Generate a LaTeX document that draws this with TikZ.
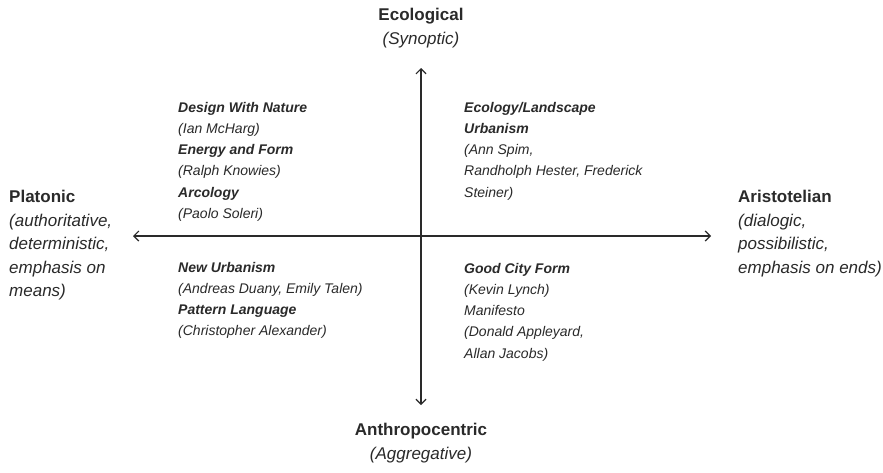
\documentclass[tikz,border=0pt]{standalone}
\usepackage{fontspec}
\setmainfont{Liberation Sans}
\usetikzlibrary{arrows.meta}
\definecolor{ink}{HTML}{2A2A2A}
\begin{document}
\begin{tikzpicture}[x=1pt,y=-1pt,
  axislabel/.style={inner sep=0pt, text=ink, align=left,
    font=\fontsize{17}{23.5}\selectfont},
  polelabel/.style={inner sep=0pt, text=ink, align=center,
    font=\fontsize{17}{23.5}\selectfont},
  quadtext/.style={inner sep=0pt, text=ink, align=left, anchor=north west,
    font=\fontsize{14}{21.2}\selectfont},
  axis/.style={draw=ink, line width=1.2pt,
    {Straight Barb[length=5pt,width=10pt]}-{Straight Barb[length=5pt,width=10pt]}}]
  \useasboundingbox[fill=white] (0,0) rectangle (883,472);

  % axis ends
  \coordinate (west) at (133,236);
  \coordinate (east) at (711,236);
  \coordinate (north) at (421,68);
  \coordinate (south) at (421,405);
  \draw[axis] (west) -- (east);
  \draw[axis] (south) -- (north);

  % poles
  \node[polelabel, anchor=north] (eco) at (421,8)
    {\textbf{Ecological}\\\textit{(Synoptic)}};
  \node[polelabel, anchor=north] (anthro) at (421,423)
    {\textbf{Anthropocentric}\\\textit{(Aggregative)}};
  \node[axislabel, anchor=north west] (plato) at (9,190)
    {\textbf{Platonic}\\\textit{(authoritative,}\\\textit{deterministic,}\\\textit{emphasis on}\\\textit{means)}};
  \node[axislabel, anchor=north west] (aristo) at (738,190)
    {\textbf{Aristotelian}\\\textit{(dialogic,}\\\textit{possibilistic,}\\\textit{emphasis on ends)}};

  % quadrants
  \node[quadtext] (ul) at (178,102)
    {\textbf{\textit{Design With Nature}}\\\textit{(Ian McHarg)}\\
     \textbf{\textit{Energy and Form}}\\\textit{(Ralph Knowies)}\\
     \textbf{\textit{Arcology}}\\\textit{(Paolo Soleri)}};
  \node[quadtext] (ur) at (464,102)
    {\textbf{\textit{Ecology/Landscape}}\\\textbf{\textit{Urbanism}}\\
     \textit{(Ann Spim,}\\\textit{Randholph Hester, Frederick}\\\textit{Steiner)}};
  \node[quadtext] (ll) at (178,262)
    {\textbf{\textit{New Urbanism}}\\\textit{(Andreas Duany, Emily Talen)}\\
     \textbf{\textit{Pattern Language}}\\\textit{(Christopher Alexander)}};
  \node[quadtext] (lr) at (464,263)
    {\textbf{\textit{Good City Form}}\\\textit{(Kevin Lynch)}\\
     \textit{Manifesto}\\\textit{(Donald Appleyard,}\\\textit{Allan Jacobs)}};
\end{tikzpicture}
\end{document}
